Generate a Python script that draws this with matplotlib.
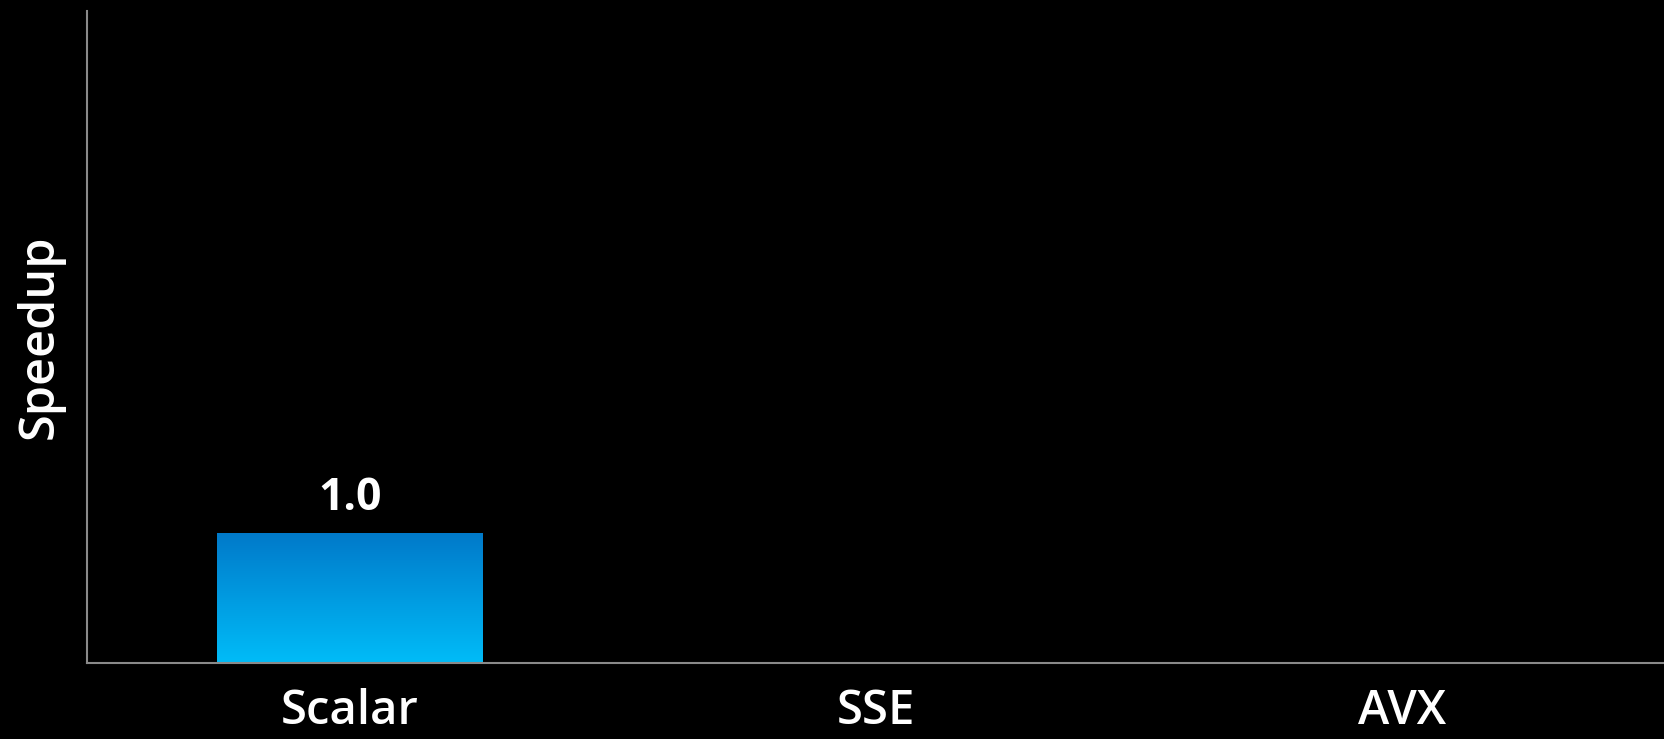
import numpy as np
import matplotlib.pyplot as plt
from matplotlib.colors import LinearSegmentedColormap

# ── data ──────────────────────────────────────────────────
categories = ["Scalar", "SSE", "AVX"]
speedup    = [1.0]          # only the scalar baseline is shown so far
labels     = ["1.0"]

# ── style ─────────────────────────────────────────────────
plt.rcParams["font.family"] = ["Open Sans", "DejaVu Sans"]
BG        = "black"
AXIS_GRAY = "#8a8a8a"
bar_cmap  = LinearSegmentedColormap.from_list("blue", ["#00bcf8", "#0079c9"])

fig = plt.figure(figsize=(16.65, 7.39), dpi=100, facecolor=BG)
ax = fig.add_axes([0.0523, 0.1028, 1 - 0.0523, 0.8823])
ax.set_facecolor(BG)

x = np.arange(len(speedup))
bars = ax.bar(x, speedup, width=0.505, color="none", edgecolor="none")

# vertical gradient fill, clipped to each bar
grad = np.linspace(0, 1, 256).reshape(-1, 1)
for b in bars:
    x0, y0 = b.get_x(), b.get_y()
    im = ax.imshow(grad, cmap=bar_cmap, aspect="auto", origin="lower",
                   extent=(x0, x0 + b.get_width(), y0, y0 + b.get_height()),
                   zorder=2)
    im.set_clip_path(b)

for b, txt in zip(bars, labels):
    ax.text(b.get_x() + b.get_width() / 2, b.get_height() + 0.09, txt,
            ha="center", va="bottom", color="white",
            fontsize=32, fontweight="bold")

ax.set_xlim(-0.5, len(categories) - 0.5)
ax.set_ylim(0, 5)
ax.set_xticks(np.arange(len(categories)))
ax.set_xticklabels(categories, fontsize=34, color="white", fontweight="semibold")
ax.set_yticks([])
ax.tick_params(axis="x", length=0, pad=18)
ax.set_ylabel("Speedup", fontsize=35, color="white", fontweight="semibold",
              labelpad=16)

for side in ["top", "right"]:
    ax.spines[side].set_visible(False)
for side in ["left", "bottom"]:
    ax.spines[side].set_color(AXIS_GRAY)
    ax.spines[side].set_linewidth(1.5)

fig.savefig("out.png", dpi=100, facecolor=BG)
